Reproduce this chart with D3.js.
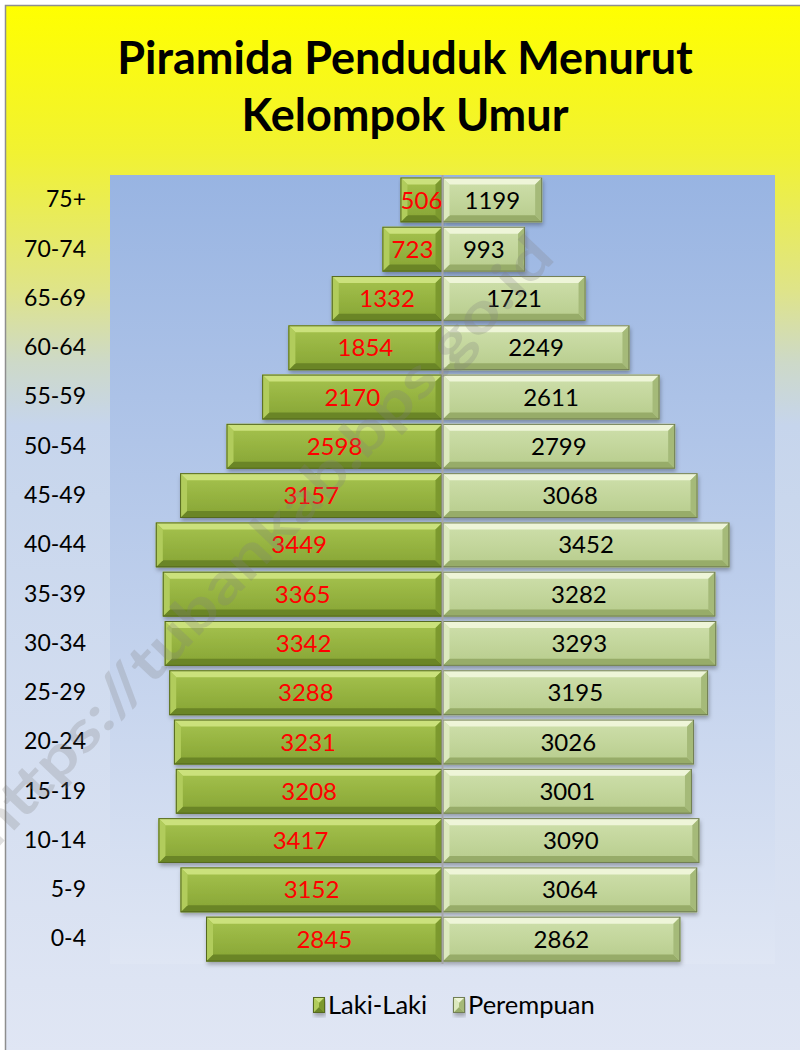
<!DOCTYPE html>
<html>
<head>
<meta charset="utf-8">
<script src="https://cdn.jsdelivr.net/npm/d3@7"></script>
<style>
body { margin: 0; background: #ffffff; }
text { font-family: Lato, "Open Sans", sans-serif; }
</style>
</head>
<body>
<script>
// data
var groups = ["75+", "70-74", "65-69", "60-64", "55-59", "50-54", "45-49", "40-44",
	"35-39", "30-34", "25-29", "20-24", "15-19", "10-14", "5-9", "0-4"];
var laki = [506, 723, 1332, 1854, 2170, 2598, 3157, 3449, 3365, 3342, 3288, 3231, 3208, 3417, 3152, 2845];
var perempuan = [1199, 993, 1721, 2249, 2611, 2799, 3068, 3452, 3282, 3293, 3195, 3026, 3001, 3090, 3064, 2862];
var seriesNames = ["Laki-Laki", "Perempuan"];
var xDomain = [-4000, 4000];
var titleLines = ["Piramida Penduduk Menurut", "Kelompok Umur"];
var watermark = "https://tubankab.bps.go.id";

var w = 800, h = 1050;
var plot = {left: 110, right: 775, top: 175, bottom: 964};

var svg = d3.select("body")
		.append("svg")
		.attr("width", w)
		.attr("height", h);

var defs = svg.append("defs");

function vGrad(id, stops) {
	var g = defs.append("linearGradient")
			.attr("id", id)
			.attr("x1", 0).attr("y1", 0)
			.attr("x2", 0).attr("y2", 1);
	stops.forEach(function(s) {
		g.append("stop").attr("offset", s[0]).attr("stop-color", s[1]);
	});
}

vGrad("bgGrad", [[0, "#ffff00"], [0.14, "#f1f232"], [0.27, "#dfe488"], [0.34, "#cdd9c8"], [0.40, "#c6d5ec"], [1, "#e0e6f4"]]);
vGrad("plotGrad", [[0, "#98b4e2"], [1, "#dfe6f4"]]);
vGrad("lakiFace", [[0, "#a6c34e"], [1, "#86a434"]]);
vGrad("perFace", [[0, "#cfe0ac"], [1, "#b7cc8c"]]);

var shadow = defs.append("filter")
		.attr("id", "shadow")
		.attr("x", "-5%").attr("y", "-20%")
		.attr("width", "110%").attr("height", "150%");
shadow.append("feDropShadow")
		.attr("dx", 1).attr("dy", 3)
		.attr("stdDeviation", 2)
		.attr("flood-color", "#000")
		.attr("flood-opacity", 0.3);

// chart background + border
svg.append("rect")
		.attr("x", 5.5).attr("y", 5.5)
		.attr("width", w).attr("height", h)
		.attr("fill", "url(#bgGrad)")
		.attr("stroke", "#8e8e8e")
		.attr("stroke-width", 1.5);

// title
var title = svg.append("text")
		.attr("text-anchor", "middle")
		.attr("font-size", 45)
		.attr("font-weight", "bold")
		.attr("fill", "#000");
titleLines.forEach(function(t, i) {
	title.append("tspan")
		.attr("x", 405)
		.attr("y", 74 + i * 57)
		.text(t);
});

// plot area
svg.append("rect")
		.attr("x", plot.left).attr("y", plot.top)
		.attr("width", plot.right - plot.left)
		.attr("height", plot.bottom - plot.top)
		.attr("fill", "url(#plotGrad)");

var x = d3.scaleLinear().domain(xDomain).range([plot.left, plot.right]);
var y = d3.scaleBand().domain(groups).range([plot.top, plot.bottom]).paddingInner(0.09).paddingOuter(0.05);

var looks = [
	{face: "url(#lakiFace)", top: "#cbe17c", left: "#b1cc5c", right: "#7c992e", bottom: "#6a8526", stroke: "#55691f", label: "#ff0000"},
	{face: "url(#perFace)", top: "#eef5d8", left: "#dce9be", right: "#a5ba79", bottom: "#97ac69", stroke: "#717e54", label: "#000000"}
];

function bevelBar(g, x0, x1, y0, y1, look) {
	var b = Math.min(7, (x1 - x0) / 2);
	g.append("rect")
		.attr("x", x0).attr("y", y0)
		.attr("width", x1 - x0).attr("height", y1 - y0)
		.attr("fill", look.face)
		.attr("filter", "url(#shadow)");
	var polys = [
		[[x0, y0], [x1, y0], [x1 - b, y0 + b], [x0 + b, y0 + b], look.top],
		[[x0, y1], [x1, y1], [x1 - b, y1 - b], [x0 + b, y1 - b], look.bottom],
		[[x0, y0], [x0 + b, y0 + b], [x0 + b, y1 - b], [x0, y1], look.left],
		[[x1, y0], [x1 - b, y0 + b], [x1 - b, y1 - b], [x1, y1], look.right]
	];
	polys.forEach(function(p) {
		g.append("polygon")
			.attr("points", p.slice(0, 4).map(function(q) { return q.join(","); }).join(" "))
			.attr("fill", p[4]);
	});
	g.append("rect")
		.attr("x", x0 + 0.5).attr("y", y0 + 0.5)
		.attr("width", x1 - x0 - 1).attr("height", y1 - y0 - 1)
		.attr("fill", "none")
		.attr("stroke", look.stroke)
		.attr("stroke-width", 1);
}

var bars = svg.append("g");
var labels = svg.append("g")
		.attr("font-size", 24)
		.attr("text-anchor", "middle");

groups.forEach(function(gName, i) {
	var y0 = y(gName), y1 = y(gName) + y.bandwidth();
	bevelBar(bars, x(-laki[i]), x(0), y0, y1, looks[0]);
	bevelBar(bars, x(0), x(perempuan[i]), y0, y1, looks[1]);
	labels.append("text")
		.attr("x", (x(-laki[i]) + x(0)) / 2)
		.attr("y", (y0 + y1) / 2)
		.attr("dy", "0.36em")
		.attr("fill", looks[0].label)
		.text(laki[i]);
	labels.append("text")
		.attr("x", (x(0) + x(perempuan[i])) / 2)
		.attr("y", (y0 + y1) / 2)
		.attr("dy", "0.36em")
		.attr("fill", looks[1].label)
		.text(perempuan[i]);
});

// vertical axis line
svg.append("line")
		.attr("x1", x(0)).attr("x2", x(0))
		.attr("y1", plot.top).attr("y2", plot.bottom)
		.attr("stroke", "#a6a6a6")
		.attr("stroke-width", 2);

// category labels
var yAxis = svg.append("g")
		.attr("transform", "translate(" + 94 + ",0)")
		.call(d3.axisLeft(y).tickSize(0).tickPadding(8));
yAxis.select(".domain").remove();
yAxis.selectAll("text")
		.attr("font-size", 23)
		.attr("font-family", "Lato, sans-serif")
		.attr("fill", "#000");

// legend
var legend = svg.append("g")
		.attr("font-size", 25.5);
var legX = [313, 453];
seriesNames.forEach(function(s, i) {
	var lg = legend.append("g");
	bevelBar(lg, legX[i], legX[i] + 12, 997, 1013, looks[i]);
	lg.append("text")
		.attr("x", legX[i] + 15)
		.attr("y", 1005)
		.attr("dy", "0.36em")
		.attr("fill", "#000")
		.text(s);
});

// watermark
svg.append("text")
		.attr("transform", "translate(262,541) rotate(-46.5)")
		.attr("text-anchor", "middle")
		.attr("dy", "0.35em")
		.attr("font-size", 56)
		.attr("font-weight", "bold")
		.attr("fill", "#7f7f7f")
		.attr("fill-opacity", 0.25)
		.attr("textLength", 815)
		.attr("lengthAdjust", "spacingAndGlyphs")
		.text(watermark);
</script>
</body>
</html>
